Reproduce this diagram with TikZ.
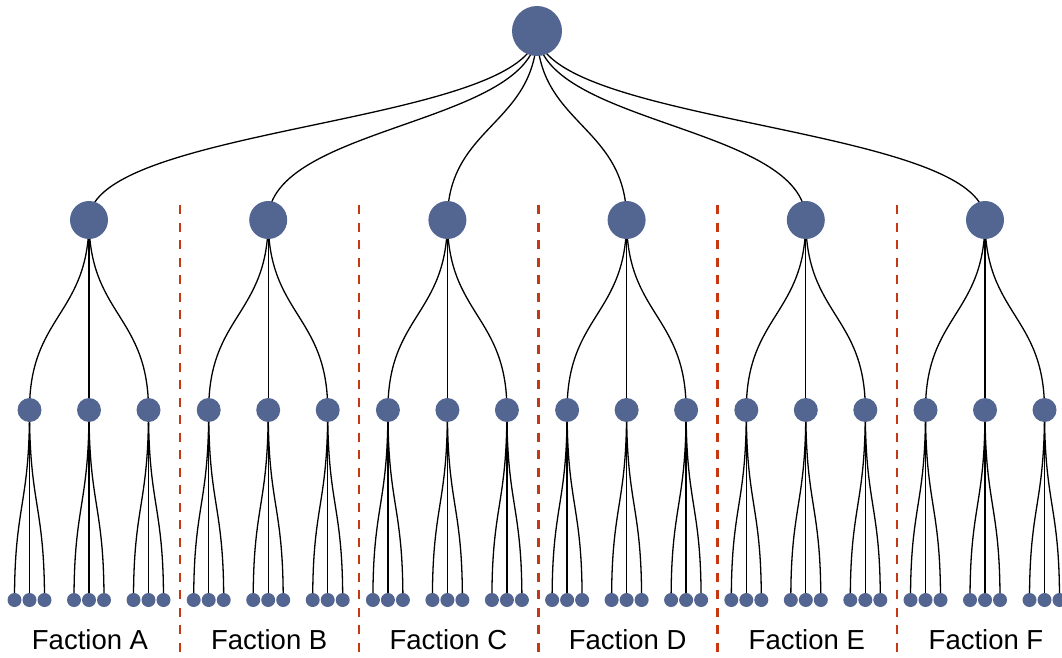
\documentclass[tikz,border=0pt]{standalone}
\usepackage{fontspec}
\setmainfont{Liberation Sans}
\pgfdeclarelayer{bg}
\pgfsetlayers{bg,main}
\definecolor{nodeblue}{RGB}{83,101,145}
\definecolor{divred}{RGB}{198,55,18}
\tikzset{
  dot/.style={circle,fill=nodeblue,draw=none,inner sep=0pt},
  rootdot/.style={dot,minimum size=50pt},
  bigdot/.style={dot,minimum size=38pt},
  middot/.style={dot,minimum size=24pt},
  leafdot/.style={dot,minimum size=14pt},
  edge/.style={draw=black,line width=1.3pt},
  divider/.style={draw=divred,line width=2.5pt,dash pattern=on 9pt off 8.5pt},
  flabel/.style={font=\fontsize{27.5}{30}\selectfont,anchor=center}
}
\begin{document}
\begin{tikzpicture}[x=1pt,y=-1pt]
\useasboundingbox (0,0) rectangle (1062,658);
\node[rootdot] (r) at (537,31) {};
\foreach \i/\L in {0/A,1/B,2/C,3/D,4/E,5/F}{
  \pgfmathsetmacro{\cx}{89+179.2*\i}
  \node[bigdot] (f\i) at (\cx,220) {};
  \node[flabel] (lab\i) at (\cx+1,640) {Faction \L};
  \begin{pgfonlayer}{bg}
    \draw[edge] (r.center) .. controls (537,125) and (\cx,125) .. (f\i.center);
  \end{pgfonlayer}
  \foreach \j in {0,1,2}{
    \pgfmathsetmacro{\mx}{\cx+59.5*(\j-1)}
    \node[middot] (m\i\j) at (\mx,410) {};
    \begin{pgfonlayer}{bg}
      \draw[edge] (f\i.center) .. controls (\cx,315) and (\mx,315) .. (m\i\j.center);
    \end{pgfonlayer}
    \foreach \k in {0,1,2}{
      \pgfmathsetmacro{\lx}{\mx+15*(\k-1)}
      \node[leafdot] (l\i\j\k) at (\lx,600) {};
      \begin{pgfonlayer}{bg}
        \draw[edge] (m\i\j.center) .. controls (\mx,505) and (\lx,505) .. (l\i\j\k.center);
      \end{pgfonlayer}
    }
  }
}
\foreach \d in {1,...,5}{
  \pgfmathsetmacro{\dx}{180+179.2*(\d-1)}
  \coordinate (dt\d) at (\dx,205);
  \coordinate (db\d) at (\dx,658);
  \draw[divider] (dt\d) -- (db\d);
}
\end{tikzpicture}
\end{document}
